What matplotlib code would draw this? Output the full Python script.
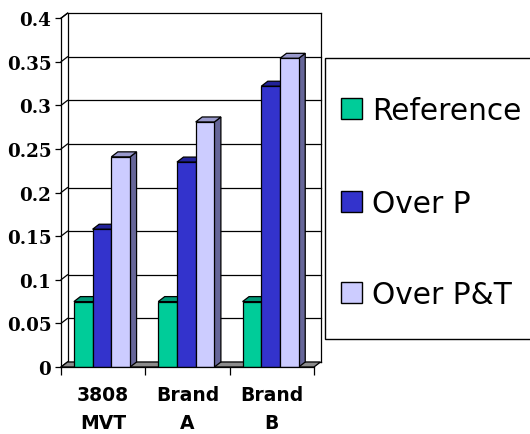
import matplotlib
matplotlib.use("Agg")
import matplotlib.pyplot as plt
from matplotlib.patches import Polygon, Rectangle
import numpy as np

# ---- data ----
categories = ["3808\nMVT", "Brand\nA", "Brand\nB"]
series_names = ["Reference", "Over P", "Over P&T"]
reference = [0.075, 0.075, 0.075]
over_p = [0.158, 0.235, 0.322]
over_pt = [0.241, 0.281, 0.354]
y_ticks = [0, 0.05, 0.1, 0.15, 0.2, 0.25, 0.3, 0.35, 0.4]
y_tick_labels = ["0", "0.05", "0.1", "0.15", "0.2", "0.25", "0.3", "0.35", "0.4"]

series = [reference, over_p, over_pt]
front_colors = ["#00CC99", "#3333CC", "#CCCCFF"]
top_colors = ["#009977", "#222299", "#9999CC"]
side_colors = ["#007755", "#1A1A80", "#666699"]

W, H = 530, 435
fig = plt.figure(figsize=(W / 100, H / 100), dpi=100)
fig.patch.set_facecolor("white")

ax_left, ax_right, ax_bottom = 61, 314, 368
ymax = 0.4
px_per_unit = 872
ax = fig.add_axes([ax_left / W, (H - ax_bottom) / H, (ax_right - ax_left) / W,
                   ymax * px_per_unit / H])
ax.set_xlim(0, 3)
ax.set_ylim(0, ymax)
ax.patch.set_alpha(0)

dx = 6.5 / ((ax_right - ax_left) / 3)
dy = 5 / px_per_unit
lw = 0.9

# floor
ax.add_patch(Polygon([(0, 0), (3, 0), (3 + dx, dy), (dx, dy)], closed=True,
                     facecolor="#8C8C8C", edgecolor="black", lw=lw, zorder=1,
                     clip_on=False))
# back wall gridlines
for t in y_ticks:
    ax.plot([dx, 3 + dx], [t + dy, t + dy], color="black", lw=lw, zorder=0.5,
            clip_on=False)
    ax.plot([0, dx], [t, t + dy], color="black", lw=lw, zorder=0.5, clip_on=False)
# back wall edges
ax.plot([dx, dx], [dy, ymax + dy], color="black", lw=lw, zorder=0.5, clip_on=False)
ax.plot([3 + dx, 3 + dx], [dy, ymax + dy], color="black", lw=lw, zorder=0.5,
        clip_on=False)
ax.plot([0, dx], [ymax, ymax + dy], color="black", lw=lw, zorder=0.5, clip_on=False)

# bars
bar_w = 0.222
start = 0.153
x_idx = np.arange(len(categories))
z = 2
for k, (vals, fc, tc, sc) in enumerate(zip(series, front_colors, top_colors, side_colors)):
    lefts = x_idx + start + k * bar_w
    for x0, h in zip(lefts, vals):
        x1 = x0 + bar_w
        ax.add_patch(Polygon([(x1, 0), (x1, h), (x1 + dx, h + dy), (x1 + dx, dy)],
                             closed=True, facecolor=sc, edgecolor="black", lw=lw,
                             zorder=z + k * 3, clip_on=False))
        ax.add_patch(Polygon([(x0, h), (x1, h), (x1 + dx, h + dy), (x0 + dx, h + dy)],
                             closed=True, facecolor=tc, edgecolor="black", lw=lw,
                             zorder=z + k * 3 + 1, clip_on=False))
    ax.bar(lefts, vals, width=bar_w, align="edge", color=fc, edgecolor="black",
           lw=lw, zorder=z + k * 3 + 2, label=series_names[k])

# axes styling
for s in ["top", "right"]:
    ax.spines[s].set_visible(False)
ax.spines["left"].set_linewidth(lw)
ax.spines["bottom"].set_linewidth(lw)
ax.spines["left"].set_zorder(20)
ax.spines["bottom"].set_zorder(20)

ax.set_yticks(y_ticks)
ax.set_yticklabels(y_tick_labels, fontfamily="DejaVu Serif", fontweight="bold",
                   fontsize=13.2)
ax.tick_params(axis="y", length=4, width=lw, pad=3)

ax.set_xticks([0, 1, 2, 3])
ax.set_xticklabels([])
ax.tick_params(axis="x", which="major", length=6, width=lw, direction="out")
ax.set_xticks(x_idx + 0.5, minor=True)
ax.set_xticklabels(categories, minor=True, fontfamily="DejaVu Sans",
                   fontweight="bold", fontsize=13.5, linespacing=1.6)
ax.tick_params(axis="x", which="minor", length=0, pad=13)

# legend box (drawn on figure)
def fx(px):
    return px / W

def fy(py):
    return (H - py) / H

fig.patches.append(Rectangle((fx(325), fy(340)), fx(545) - fx(325), fy(59) - fy(340),
                             transform=fig.transFigure, facecolor="white",
                             edgecolor="black", lw=1.0, zorder=30))
entry_y = [109, 202, 293]
for name, fc, yc in zip(series_names, front_colors, entry_y):
    fig.patches.append(Rectangle((fx(341), fy(yc + 10.5)), fx(21) - fx(0),
                                 fy(0) - fy(21), transform=fig.transFigure,
                                 facecolor=fc, edgecolor="black", lw=1.0, zorder=31))
    fig.text(fx(372), fy(yc), name, fontfamily="DejaVu Sans", fontsize=21.3,
             va="center_baseline", ha="left", zorder=32)

fig.savefig("out.png", dpi=100)
